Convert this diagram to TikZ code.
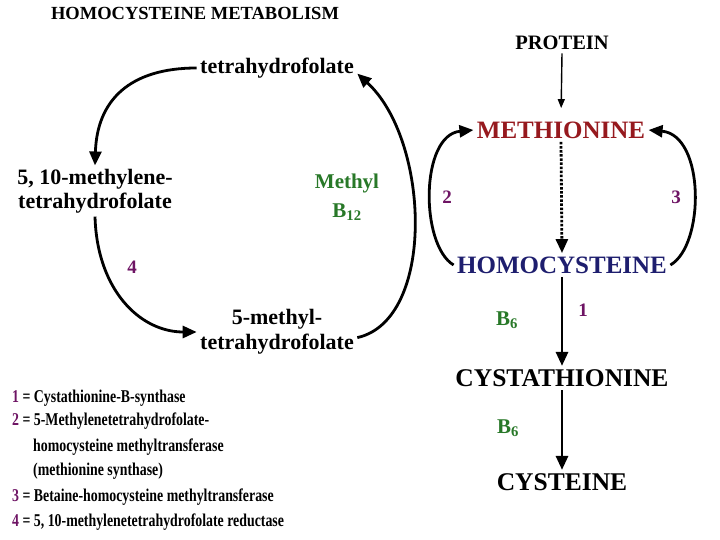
\documentclass[tikz,border=0pt]{standalone}
\usepackage{fontspec}
\setmainfont{Liberation Serif}
\newfontfamily\legendfont[FakeStretch=0.77]{Liberation Serif}
\usetikzlibrary{arrows.meta}
\definecolor{metred}{RGB}{150,25,30}
\definecolor{hcyblue}{RGB}{30,30,110}
\definecolor{vitgreen}{RGB}{40,120,40}
\definecolor{enzpurple}{RGB}{110,20,100}
\begin{document}
\begin{tikzpicture}[
    x=1pt, y=1pt,
    folate/.style={font=\bfseries\fontsize{22}{24}\selectfont, align=center},
    amino/.style={font=\bfseries\fontsize{25.5}{28}\selectfont},
    vitamin/.style={font=\bfseries\fontsize{21}{24}\selectfont, text=vitgreen, align=center},
    enzyme/.style={font=\bfseries\fontsize{19}{22}\selectfont, text=enzpurple},
    legend/.style={font=\legendfont\bfseries\fontsize{18}{20}\selectfont, anchor=west, inner sep=0pt},
    cycle/.style={-{Triangle[length=14pt,width=12pt]}, line width=2.8pt}
]
    \useasboundingbox (0,0) rectangle (720,-540);

    % Title
    \node[font=\bfseries\fontsize{18.5}{20}\selectfont] (title) at (195,-13) {HOMOCYSTEINE METABOLISM};

    % Folate cycle
    \node[folate] (thf) at (277,-68) {tetrahydrofolate};
    \node[folate] (mthf) at (95,-191) {5, 10-methylene-\\tetrahydrofolate};
    \node[folate, font=\bfseries\fontsize{22}{25}\selectfont] (methyl) at (277,-332) {5-methyl-\\tetrahydrofolate};
    \node[vitamin] (b12) at (347,-197) {Methyl\\[5pt]B\textsubscript{12}};
    \node[enzyme] (four) at (132,-267) {4};

    \draw[cycle] (thf.west) .. controls (130,-68) and (97,-100) .. (mthf.north);
    \draw[cycle] (mthf.south) .. controls (97,-290) and (140,-332) .. (methyl.west);
    \draw[cycle] (methyl.-4) .. controls (436,-320) and (430,-140) .. (thf.-4);

    % Methionine cycle
    \node[font=\bfseries\fontsize{20.5}{22}\selectfont] (protein) at (562,-43) {PROTEIN};
    \node[amino, font=\bfseries\fontsize{25}{28}\selectfont, text=metred] (met) at (561,-130) {METHIONINE};
    \node[amino, font=\bfseries\fontsize{25}{28}\selectfont, text=hcyblue] (hcy) at (562,-265) {HOMOCYSTEINE};
    \node[amino] (cysta) at (562,-378) {CYSTATHIONINE};
    \node[amino] (cys) at (562,-482) {CYSTEINE};

    \draw[-{Triangle[length=9pt,width=7pt]}, line width=1.4pt, shorten >=10pt] (protein.south) -- (met.north);
    \draw[cycle, dash pattern=on 2.5pt off 1.6pt] (met.south) -- (hcy.north);
    \draw[cycle] (hcy.west) .. controls (420,-245) and (420,-135) .. (met.west);
    \draw[cycle] (hcy.east) .. controls (705,-245) and (705,-135) .. (met.east);
    \draw[cycle] (hcy.south) -- (cysta.north);
    \draw[cycle] (cysta.south) -- (cys.north);

    \node[enzyme] (two) at (447,-197) {2};
    \node[enzyme] (three) at (676,-197) {3};
    \node[enzyme] (one) at (583,-310) {1};
    \node[vitamin] (b6a) at (507,-320) {B\textsubscript{6}};
    \node[vitamin] (b6b) at (508,-428) {B\textsubscript{6}};

    % Legend
    \node[legend] (leg1) at (12,-398) {\textcolor{enzpurple}{1} = Cystathionine-B-synthase};
    \node[legend] (leg2) at (12,-421) {\textcolor{enzpurple}{2} = 5-Methylenetetrahydrofolate-};
    \node[legend] (leg3) at (33,-447) {homocysteine methyltransferase};
    \node[legend] (leg4) at (33,-471) {(methionine synthase)};
    \node[legend] (leg5) at (12,-497) {\textcolor{enzpurple}{3} = Betaine-homocysteine methyltransferase};
    \node[legend] (leg6) at (12,-522) {\textcolor{enzpurple}{4} = 5, 10-methylenetetrahydrofolate reductase};
\end{tikzpicture}
\end{document}
